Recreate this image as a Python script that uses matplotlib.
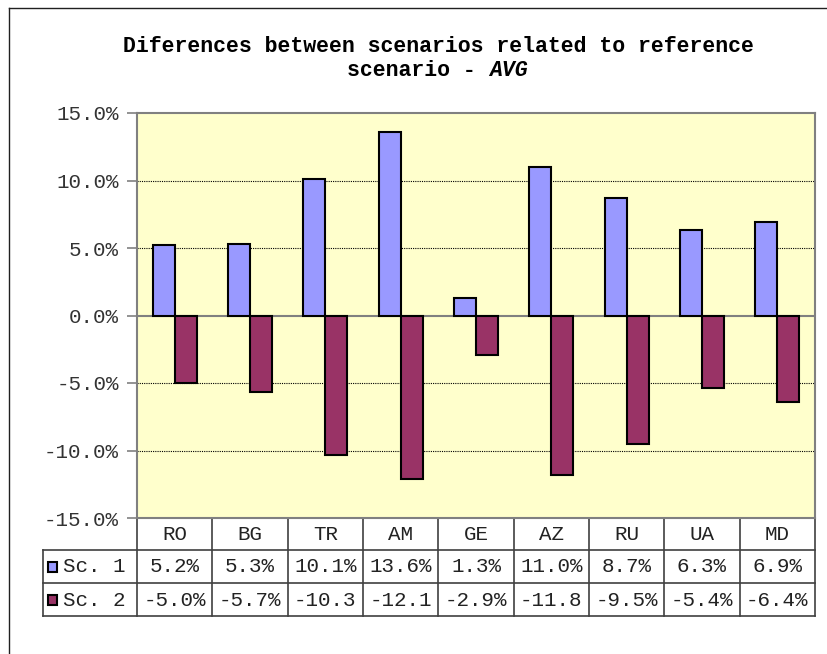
import numpy as np
import matplotlib
matplotlib.use("Agg")
from matplotlib import pyplot as plt
from matplotlib.lines import Line2D
from matplotlib.patches import Rectangle
import matplotlib.transforms as mtransforms

plt.rcParams['font.family'] = ['Liberation Mono', 'DejaVu Sans Mono']

countries = ['RO', 'BG', 'TR', 'AM', 'GE', 'AZ', 'RU', 'UA', 'MD']
series_names = ['Sc. 1', 'Sc. 2']
sc1 = [5.2, 5.3, 10.1, 13.6, 1.3, 11.0, 8.7, 6.3, 6.9]
sc2 = [-5.0, -5.7, -10.3, -12.1, -2.9, -11.8, -9.5, -5.4, -6.4]
# table cells as they show up (long ones cut off by the column width)
sc1_cells = ['5.2%', '5.3%', '10.1%', '13.6%', '1.3%', '11.0%', '8.7%', '6.3%', '6.9%']
sc2_cells = ['-5.0%', '-5.7%', '-10.3', '-12.1', '-2.9%', '-11.8', '-9.5%', '-5.4%', '-6.4%']
yticks = [-15, -10, -5, 0, 5, 10, 15]

W, H = 827, 654
fig = plt.figure(figsize=(W / 100, H / 100), dpi=100)

# plot area in pixels
px0, px1, py0, py1 = 137, 815, 113, 518
ax = fig.add_axes([px0 / W, 1 - py1 / H, (px1 - px0) / W, (py1 - py0) / H])
ax.set_facecolor('#FFFFCC')

x = np.arange(len(countries))
bw = 0.29
ax.bar(x - bw / 2, sc1, bw, color='#9999FF', edgecolor='black', linewidth=1.5, zorder=3)
ax.bar(x + bw / 2, sc2, bw, color='#993366', edgecolor='black', linewidth=1.5, zorder=3)

ax.set_xlim(-0.5, len(countries) - 0.5)
ax.set_ylim(-15, 15)
ax.set_yticks(yticks)
ax.set_yticklabels([f'{v:.1f}%' for v in yticks], fontsize=15, color='#333333')
ax.set_xticks([])
ax.tick_params(axis='y', length=7, width=1.2, color='#808080', pad=6)
for v in [-10, -5, 5, 10]:
    ax.axhline(v, color='black', linestyle=(0, (1, 1)), linewidth=0.8, zorder=1)
ax.axhline(0, color='#808080', linewidth=1.5, zorder=2)
for s in ax.spines.values():
    s.set_color('#808080')
    s.set_linewidth(1.5)

# title
fy = lambda p: 1 - p / H
fig.text(438.5 / W, fy(47), 'Diferences between scenarios related to reference',
         ha='center', va='center', fontsize=15.5, fontweight='bold')
fig.text(489 / W, fy(71), 'scenario - ', ha='right', va='center', fontsize=15.5,
         fontweight='bold')
fig.text(489 / W, fy(71), 'AVG', ha='left', va='center', fontsize=15.5,
         fontweight='bold', style='italic')

# data table under the plot
trans = mtransforms.blended_transform_factory(ax.transData, fig.transFigure)
rows_y = [518, 550, 583, 616]
lc = '#404040'
# horizontal rules
ax.add_line(Line2D([-0.5, len(countries) - 0.5], [fy(518)] * 2, transform=trans, color=lc, lw=1.2, clip_on=False))
for yy in rows_y[1:]:
    fig.add_artist(Line2D([43 / W, px1 / W], [fy(yy)] * 2, color=lc, lw=1.2))
# vertical rules
for i in range(len(countries) + 1):
    ax.add_line(Line2D([i - 0.5] * 2, [fy(518), fy(616)], transform=trans, color=lc, lw=1.2, clip_on=False))
fig.add_artist(Line2D([43 / W] * 2, [fy(550), fy(616)], color=lc, lw=1.2))

for i, c in enumerate(countries):
    ax.text(i, fy(534), c, transform=trans, ha='center', va='center', fontsize=15, color='#222222')
    ax.text(i, fy(567), sc1_cells[i], transform=trans, ha='center', va='center', fontsize=15, color='#222222')
    ax.text(i, fy(600), sc2_cells[i], transform=trans, ha='center', va='center', fontsize=15, color='#222222')

for name, col, yc in zip(series_names, ['#9999FF', '#993366'], [567, 600]):
    fig.add_artist(Rectangle((48 / W, fy(yc + 5)), 9 / W, 10 / H, facecolor=col,
                             edgecolor='black', linewidth=1.5))
    fig.text(63 / W, fy(yc), name, ha='left', va='center', fontsize=15, color='#222222')

# chart frame
fig.add_artist(Line2D([9 / W, 9 / W], [0, fy(8)], color='#202020', lw=1.0))
fig.add_artist(Line2D([9 / W, 1], [fy(8), fy(8)], color='#202020', lw=1.0))

fig.savefig('out.png', dpi=100)
